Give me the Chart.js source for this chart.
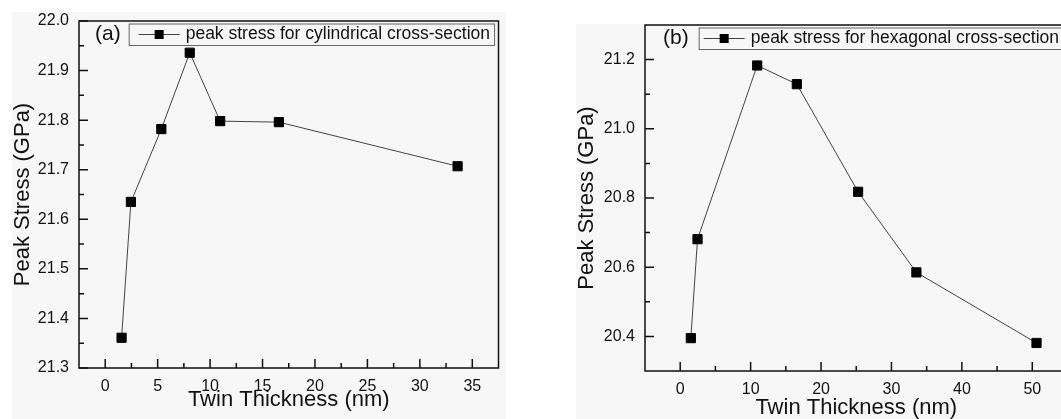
<!DOCTYPE html>
<html>
<head>
<meta charset="utf-8">
<script src="https://cdn.jsdelivr.net/npm/chart.js@4.4.0/dist/chart.umd.min.js"></script>
<style>
  html, body { margin: 0; padding: 0; background: #fff; overflow: hidden; width: 1061px; height: 419px; }
  .panel { position: absolute; background: #f7f7f7; }
  .wrap { position: absolute; top: 0; }
</style>
</head>
<body>
<div class="panel" style="left:12px;top:12px;width:494px;height:407px"></div>
<div class="panel" style="left:576px;top:24px;width:485px;height:395px"></div>
<div class="wrap" style="left:0"><canvas id="chartA" width="506" height="419"></canvas></div>
<div class="wrap" style="left:540px"><canvas id="chartB" width="535" height="430"></canvas></div>
<script>
// Panel (a): cylindrical cross-section
const cylThickness = [1.56, 2.45, 5.35, 8.06, 10.96, 16.56, 33.6];
const cylStress = [21.361, 21.635, 21.782, 21.936, 21.798, 21.796, 21.707];
const cylXTicks = [0, 5, 10, 15, 20, 25, 30, 35];
const cylXMinor = [2.5, 7.5, 12.5, 17.5, 22.5, 27.5, 32.5];
const cylYTicks = [21.3, 21.4, 21.5, 21.6, 21.7, 21.8, 21.9, 22.0];
const cylYMinor = [21.35, 21.45, 21.55, 21.65, 21.75, 21.85, 21.95];

// Panel (b): hexagonal cross-section
const hexThickness = [1.51, 2.46, 10.93, 16.56, 25.26, 33.54, 50.6];
const hexStress = [20.395, 20.681, 21.183, 21.129, 20.818, 20.585, 20.381];
const hexXTicks = [0, 10, 20, 30, 40, 50];
const hexXMinor = [5, 15, 25, 35, 45];
const hexYTicks = [20.4, 20.6, 20.8, 21.0, 21.2];
const hexYMinor = [20.5, 20.7, 20.9, 21.1];

(function(){
    "use strict";

    const FONT = "'Liberation Sans', Arial, Helvetica, sans-serif";
    const INK = '#111';

    /**
     * Draws the Origin-style frame, inward major/minor ticks and the "(a)" tag + legend box.
     */
    const originDecor = {
        id: 'originDecor',
        afterDraw(chart, args, opts) {
            const ctx = chart.ctx;
            const a = chart.chartArea;
            const x = chart.scales.x;
            const y = chart.scales.y;
            ctx.save();

            // ticks, pointing into the plot
            ctx.strokeStyle = INK;
            ctx.lineWidth = 1.5;
            ctx.beginPath();
            opts.xMajor.forEach(v => { const p = x.getPixelForValue(v); ctx.moveTo(p, a.bottom); ctx.lineTo(p, a.bottom - 9); });
            opts.xMinor.forEach(v => { const p = x.getPixelForValue(v); ctx.moveTo(p, a.bottom); ctx.lineTo(p, a.bottom - 5); });
            opts.yMajor.forEach(v => { const p = y.getPixelForValue(v); ctx.moveTo(a.left, p); ctx.lineTo(a.left + 9, p); });
            opts.yMinor.forEach(v => { const p = y.getPixelForValue(v); ctx.moveTo(a.left, p); ctx.lineTo(a.left + 5, p); });
            ctx.stroke();
            ctx.strokeRect(a.left, a.top, a.right - a.left, a.bottom - a.top);

            // panel tag
            const mid = a.top + 13.5;
            ctx.fillStyle = INK;
            ctx.textBaseline = 'middle';
            ctx.font = '21px ' + FONT;
            const tagX = a.left + opts.tagOffset;
            ctx.fillText(opts.tag, tagX, mid);
            const tagEnd = tagX + ctx.measureText(opts.tag).width;

            // legend box
            ctx.font = '17.5px ' + FONT;
            const label = chart.data.datasets[0].label;
            const textW = ctx.measureText(label).width;
            const boxL = tagEnd + opts.gap;
            const lineL = boxL + opts.pad;
            const textL = lineL + 41 + 6;
            const boxW = textL + textW + 4 - boxL;
            ctx.fillStyle = '#f7f7f7';
            ctx.fillRect(boxL, a.top + 2.5, boxW, 21.5);
            ctx.strokeStyle = '#666';
            ctx.lineWidth = 1;
            ctx.strokeRect(boxL + 0.5, a.top + 3, boxW, 21.5);

            ctx.strokeStyle = '#444';
            ctx.beginPath();
            ctx.moveTo(lineL, mid);
            ctx.lineTo(lineL + 41, mid);
            ctx.stroke();
            ctx.fillStyle = '#000';
            ctx.fillRect(lineL + 20.5 - 4.5, mid - 4.5, 9, 9);

            ctx.fillStyle = INK;
            ctx.fillText(label, textL, mid);
            ctx.restore();
        }
    };

    /**
     * Builds one panel.
     */
    function createChart(canvasId, cfg) {
        const ctx = document.getElementById(canvasId).getContext('2d');
        return new Chart(ctx, {
            type: 'line',
            data: {
                datasets: [{
                    label: cfg.label,
                    data: cfg.xs.map((v, i) => ({ x: v, y: cfg.ys[i] })),
                    borderColor: '#444',
                    borderWidth: 1,
                    pointStyle: 'rect',
                    pointRadius: 6.5,
                    pointBackgroundColor: '#000',
                    pointBorderColor: '#000',
                    pointBorderWidth: 1,
                    fill: false,
                    tension: 0
                }]
            },
            options: {
                responsive: false,
                animation: false,
                layout: { padding: { top: cfg.top, right: cfg.right, left: 0, bottom: 0 } },
                scales: {
                    x: {
                        type: 'linear',
                        min: cfg.xMin,
                        max: cfg.xMax,
                        grid: { display: false, drawTicks: false },
                        border: { display: false },
                        afterBuildTicks: s => { s.ticks = cfg.xTicks.map(v => ({ value: v })); },
                        afterFit: s => { s.height = cfg.xHeight; s.paddingLeft = 0; s.paddingRight = 0; },
                        ticks: {
                            padding: 9,
                            color: INK,
                            font: { size: 16, family: FONT },
                            maxRotation: 0,
                            autoSkip: false,
                            callback: v => String(v)
                        },
                        title: {
                            display: true,
                            text: 'Twin Thickness (nm)',
                            color: INK,
                            font: { size: 22, family: FONT },
                            padding: { top: 0, bottom: cfg.xTitlePad }
                        }
                    },
                    y: {
                        min: cfg.yMin,
                        max: cfg.yMax,
                        grid: { display: false, drawTicks: false },
                        border: { display: false },
                        afterBuildTicks: s => { s.ticks = cfg.yTicks.map(v => ({ value: v })); },
                        afterFit: s => { s.width = cfg.yWidth; s.paddingTop = 0; s.paddingBottom = 0; },
                        ticks: {
                            padding: 10,
                            color: INK,
                            font: { size: 16, family: FONT },
                            autoSkip: false,
                            callback: v => v.toFixed(1)
                        },
                        title: {
                            display: true,
                            text: 'Peak Stress (GPa)',
                            color: INK,
                            font: { size: 22, family: FONT },
                            padding: { top: cfg.yTitlePad, bottom: 0 }
                        }
                    }
                },
                plugins: {
                    legend: { display: false },
                    tooltip: { enabled: false },
                    originDecor: {
                        tag: cfg.tag,
                        tagOffset: cfg.tagOffset,
                        gap: cfg.gap,
                        pad: cfg.pad,
                        xMajor: cfg.xTicks,
                        xMinor: cfg.xMinor,
                        yMajor: cfg.yTicks,
                        yMinor: cfg.yMinor
                    }
                }
            },
            plugins: [originDecor]
        });
    }

    function init() {
        createChart('chartA', {
            label: 'peak stress for cylindrical cross-section',
            tag: '(a)', tagOffset: 16, gap: 8, pad: 10,
            xs: cylThickness, ys: cylStress,
            xMin: -2.5, xMax: 37.5, yMin: 21.3, yMax: 22.0,
            xTicks: cylXTicks, xMinor: cylXMinor, yTicks: cylYTicks, yMinor: cylYMinor,
            top: 21, right: 3, xHeight: 51, yWidth: 79, xTitlePad: 6, yTitlePad: 10
        });
        createChart('chartB', {
            label: 'peak stress for hexagonal cross-section',
            tag: '(b)', tagOffset: 18, gap: 10, pad: 5,
            xs: hexThickness, ys: hexStress,
            xMin: -5, xMax: 55, yMin: 20.3, yMax: 21.3,
            xTicks: hexXTicks, xMinor: hexXMinor, yTicks: hexYTicks, yMinor: hexYMinor,
            top: 25, right: 6, xHeight: 59, yWidth: 105, xTitlePad: 9, yTitlePad: 34
        });
    }

    init();
})();
</script>
</body>
</html>
